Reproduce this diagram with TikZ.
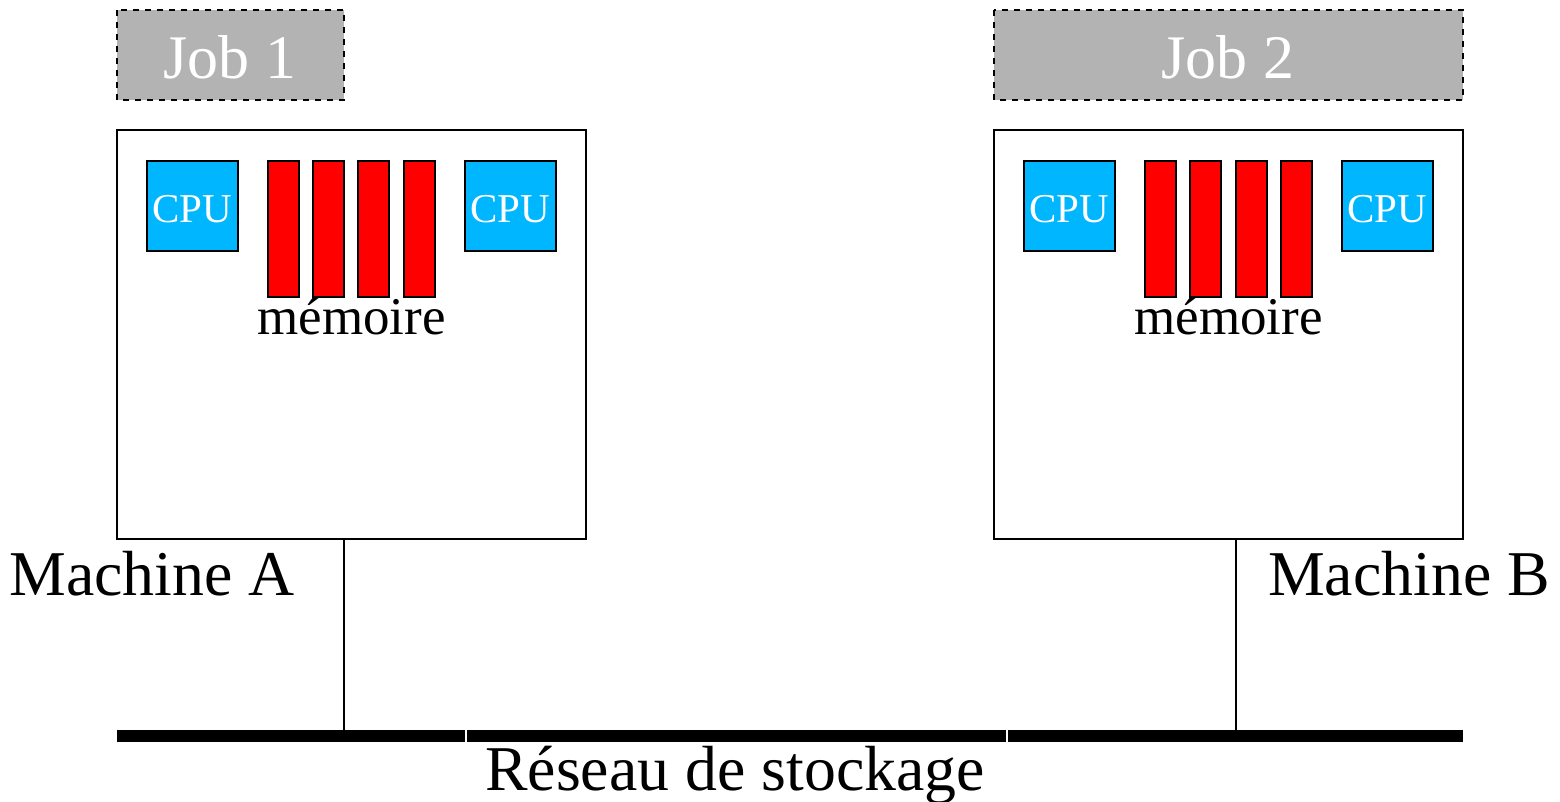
\documentclass[tikz,border=0pt]{standalone}
\usepackage{fontspec}
\setmainfont{Liberation Serif}
\definecolor{jobgray}{HTML}{B3B3B3}
\definecolor{cpublue}{HTML}{00B7FF}
\begin{document}
\begin{tikzpicture}[x=0.5pt,y=-0.5pt,
  jobbox/.style={draw=black,dashed,fill=jobgray,line width=0.6pt},
  machbox/.style={draw=black,line width=0.7pt},
  cpubox/.style={draw=black,fill=cpublue,line width=0.7pt},
  membox/.style={draw=black,fill=red,line width=0.7pt},
  jobtext/.style={anchor=base,inner sep=0pt,text=white,font=\fontsize{31}{31}\selectfont},
  cputext/.style={anchor=base,inner sep=0pt,text=white,font=\fontsize{20.5}{20.5}\selectfont},
  memtext/.style={anchor=base,inner sep=0pt,font=\fontsize{26.5}{26.5}\selectfont},
  bigtext/.style={anchor=base,inner sep=0pt,font=\fontsize{31.9}{31.9}\selectfont},
  link/.style={line width=0.7pt},
  bus/.style={line width=6pt}]
\useasboundingbox (0,0) rectangle (1560,802);
% Jobs
\draw[jobbox] (117,10) rectangle (344,100);
\node[jobtext] (j1) at (230,79) {Job 1};
\draw[jobbox] (994,10) rectangle (1463,100);
\node[jobtext] (j2) at (1228,79) {Job 2};
% Machine A
\draw[machbox] (117,130) rectangle (586,539);
\coordinate (mA) at (344,539);
\draw[cpubox] (147,161) rectangle (238,251);
\node[cputext] (ca1) at (192.5,223) {CPU};
\draw[cpubox] (465,161) rectangle (556,251);
\node[cputext] (ca2) at (510.5,223) {CPU};
\foreach \x in {268,313,358,404}
  \draw[membox] (\x,161) rectangle (\x+31,297);
\node[memtext] (memA) at (351.5,335) {mémoire};
\node[bigtext] (labA) at (152,596) {Machine A};
% Machine B
\draw[machbox] (994,130) rectangle (1463,539);
\coordinate (mB) at (1236,539);
\draw[cpubox] (1024,161) rectangle (1115,251);
\node[cputext] (cb1) at (1069.5,223) {CPU};
\draw[cpubox] (1342,161) rectangle (1433,251);
\node[cputext] (cb2) at (1387.5,223) {CPU};
\foreach \x in {1145,1190,1236,1281}
  \draw[membox] (\x,161) rectangle (\x+31,297);
\node[memtext] (memB) at (1228.5,335) {mémoire};
\node[bigtext] (labB) at (1409,596) {Machine B};
% Network
\coordinate (bA) at (344,731);
\coordinate (bB) at (1236,731);
\draw[link] (mA) -- (bA);
\draw[link] (mB) -- (bB);
\coordinate (s0) at (117,736);
\coordinate (s1) at (464.5,736);
\coordinate (s2) at (467,736);
\coordinate (s3) at (1005.5,736);
\coordinate (s4) at (1008,736);
\coordinate (s5) at (1463,736);
\draw[bus] (s0) -- (s1);
\draw[bus] (s2) -- (s3);
\draw[bus] (s4) -- (s5);
\node[bigtext] (net) at (735,790) {Réseau de stockage};
\end{tikzpicture}
\end{document}
